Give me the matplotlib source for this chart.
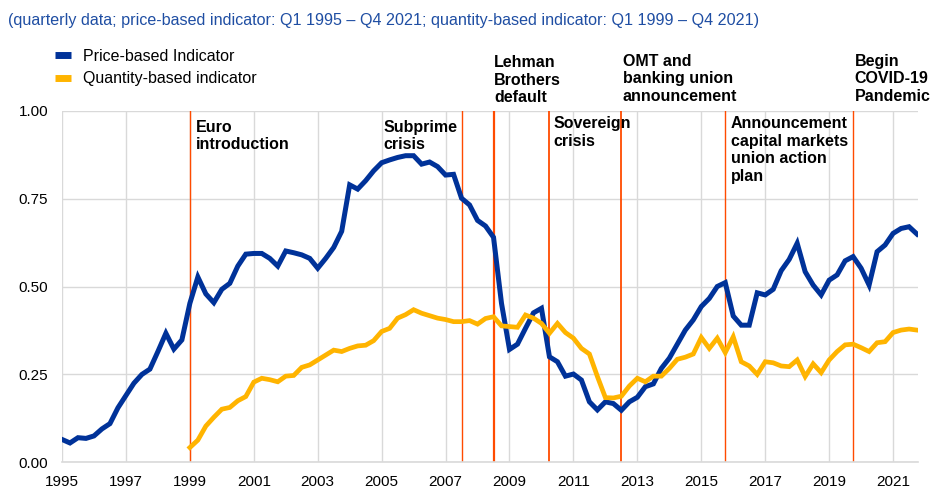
import matplotlib as mpl

mpl.use('agg')

import matplotlib.pyplot as plt
from matplotlib.lines import Line2D

plt.rcParams['font.family'] = ['Liberation Sans', 'DejaVu Sans']

# quarterly data, price-based indicator Q1 1995 - Q4 2021
price_based = [0.065, 0.055, 0.07, 0.068, 0.075, 0.095, 0.11, 0.155, 0.19, 0.225, 0.25, 0.265,
               0.315, 0.367, 0.322, 0.348, 0.452, 0.527,
               0.479, 0.454, 0.492, 0.509, 0.558, 0.592, 0.594, 0.594, 0.58, 0.558, 0.601, 0.596,
               0.59, 0.58, 0.552, 0.58, 0.611, 0.657,
               0.789, 0.777, 0.801, 0.829, 0.852, 0.86, 0.867, 0.872, 0.872, 0.848, 0.854, 0.841,
               0.817, 0.819, 0.751, 0.732, 0.688, 0.672,
               0.64, 0.452, 0.321, 0.336, 0.381, 0.425, 0.438, 0.30, 0.286, 0.245, 0.251, 0.234,
               0.172, 0.149, 0.172, 0.167, 0.148, 0.172,
               0.185, 0.215, 0.223, 0.267, 0.296, 0.336, 0.376, 0.405, 0.443, 0.466, 0.50, 0.511,
               0.416, 0.39, 0.39, 0.482, 0.476, 0.492,
               0.545, 0.577, 0.623, 0.542, 0.504, 0.476, 0.518, 0.533, 0.573, 0.585, 0.552, 0.504,
               0.599, 0.618, 0.651, 0.665, 0.67, 0.649]

# quantity-based indicator Q1 1999 - Q4 2021
quantity_based = [0.042, 0.063, 0.103, 0.128, 0.151, 0.156, 0.175, 0.187, 0.228, 0.239, 0.235, 0.229,
                  0.245, 0.247, 0.27, 0.277, 0.291, 0.305,
                  0.319, 0.315, 0.324, 0.331, 0.333, 0.346, 0.372, 0.381, 0.41, 0.42, 0.434, 0.424,
                  0.417, 0.41, 0.406, 0.40, 0.40, 0.403,
                  0.393, 0.409, 0.414, 0.388, 0.386, 0.384, 0.419, 0.41, 0.395, 0.367, 0.395, 0.369,
                  0.353, 0.324, 0.308, 0.244, 0.184, 0.183,
                  0.188, 0.217, 0.239, 0.229, 0.245, 0.245, 0.267, 0.293, 0.299, 0.308, 0.355, 0.324,
                  0.353, 0.312, 0.357, 0.286, 0.274, 0.25,
                  0.286, 0.283, 0.274, 0.272, 0.291, 0.244, 0.28, 0.255, 0.291, 0.315, 0.334, 0.336,
                  0.326, 0.315, 0.34, 0.343, 0.369, 0.376, 0.379, 0.376]

price_start = 1995
quantity_start = 1999

# events (year + quarter offset)
event_dates = [1999.0, 2007.5, 2008.5, 2010.25, 2012.5, 2015.75, 2019.75]
event_labels = ["Euro\nintroduction", "Subprime\ncrisis", "Lehman\nBrothers\ndefault",
                "Sovereign\ncrisis", "OMT and\nbanking union\nannouncement",
                "Announcement\ncapital markets\nunion action\nplan",
                "Begin\nCOVID-19\nPandemic"]

x_ticks = list(range(1995, 2022, 2))
y_ticks = [0.0, 0.25, 0.5, 0.75, 1.0]

# label placement (x in years, y in axes fraction), line widths
label_x = [1999.19, 2005.05, 2008.52, 2010.37, 2012.54, 2015.92, 2019.8]
label_y = [0.974, 0.974, 1.158, 0.984, 1.162, 0.984, 1.162]
event_lw = [1.0, 1.0, 1.6, 1.3, 1.3, 1.0, 1.0]

blue = '#003299'
yellow = '#FFB400'
red = '#FF4B00'

price_x = [price_start + i / 4 for i in range(len(price_based))]
quantity_x = [quantity_start + i / 4 for i in range(len(quantity_based))]

fig = plt.figure(figsize=(9.31, 4.88), dpi=100)
ax = fig.add_axes([62 / 931, 1 - 462.3 / 488, (918 - 62) / 931, 351.6 / 488])

ax.set_xlim(1995, 2021.78)
ax.set_ylim(0, 1.0)
ax.set_xticks(x_ticks)
ax.set_yticks(y_ticks)
ax.set_yticklabels(['%.2f' % v for v in y_ticks])
ax.tick_params(axis='both', length=0, labelsize=11)
ax.tick_params(axis='x', pad=9)
ax.tick_params(axis='y', pad=10)

ax.grid(True, color='#d9d9d9', linewidth=1.0)
ax.set_axisbelow(True)
for side in ['top', 'right', 'left']:
    ax.spines[side].set_visible(False)
ax.spines['bottom'].set_color('#d9d9d9')
ax.spines['bottom'].set_linewidth(1.2)

for d, lw in zip(event_dates, event_lw):
    ax.axvline(d, color=red, linewidth=lw, zorder=2)

ax.plot(price_x, price_based, color=blue, linewidth=3.6, zorder=3, solid_joinstyle='miter')
ax.plot(quantity_x, quantity_based, color=yellow, linewidth=3.4, zorder=3, solid_joinstyle='miter')

for lx, ly, txt in zip(label_x, label_y, event_labels):
    ax.text(lx, ly, txt, transform=ax.get_xaxis_transform(), ha='left', va='top',
            fontsize=11.5, fontweight='bold', color='black', clip_on=False, linespacing=1.2)

fig.text(8 / 931, 1 - 21 / 488,
         "(quarterly data; price-based indicator: Q1 1995 \u2013 Q4 2021; "
         "quantity-based indicator: Q1 1999 \u2013 Q4 2021)",
         color='#1f4ea3', fontsize=11.6, ha='left', va='center')

handles = [Line2D([], [], color=blue, linewidth=5, solid_capstyle='butt'),
           Line2D([], [], color=yellow, linewidth=5, solid_capstyle='butt')]
fig.legend(handles, ['Price-based Indicator', 'Quantity-based indicator'],
           loc='upper left', bbox_to_anchor=(55 / 931, 1 - 49 / 488), frameon=False,
           fontsize=11.5, handlelength=1.0, handletextpad=0.75, labelspacing=0.45,
           borderpad=0, borderaxespad=0)

fig.savefig('out.png', dpi=100)
